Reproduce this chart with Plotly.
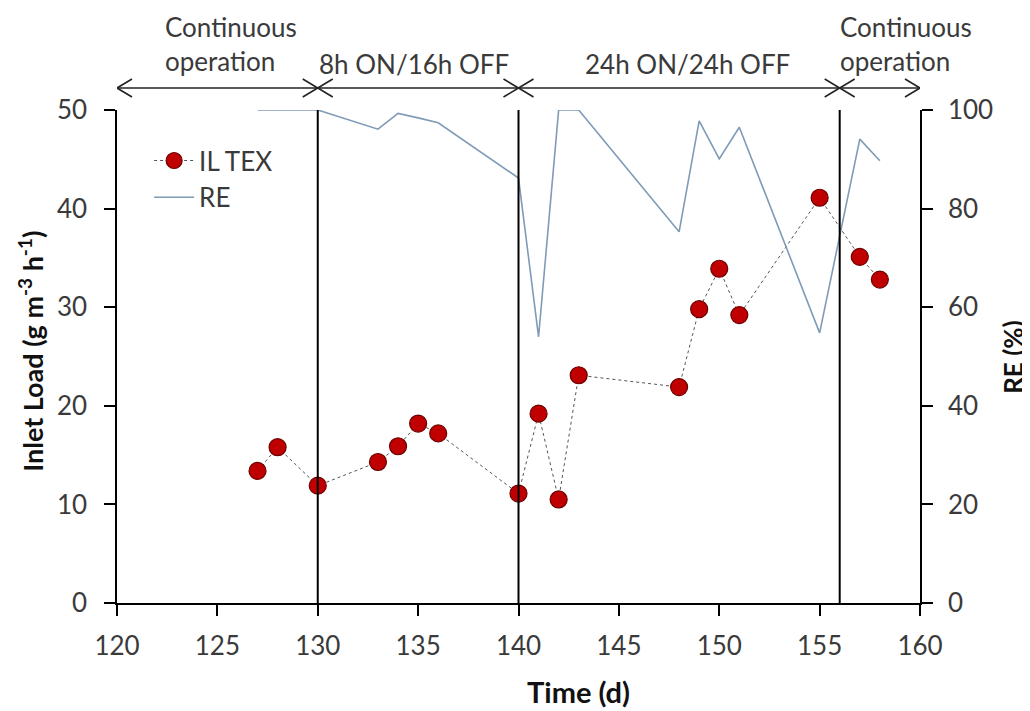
import plotly.graph_objects as go

# ---- data ----
days = [127, 128, 130, 133, 134, 135, 136, 140, 141, 142, 143, 148, 149, 150, 151, 155, 157, 158]
il_tex = [13.4, 15.8, 11.9, 14.3, 15.9, 18.2, 17.2, 11.1, 19.2, 10.5, 23.1, 21.9, 29.8, 33.9, 29.2, 41.1, 35.1, 32.8]
re_pct = [100, 100, 100, 96.1, 99.3, 98.4, 97.4, 86.2, 54.0, 100, 100, 75.3, 97.8, 90.1, 96.5, 54.8, 94.1, 89.7]

phase_bounds = [120, 130, 140, 156, 160]
phase_labels = ["Continuous<br>operation", "8h ON/16h OFF", "24h ON/24h OFF", "Continuous<br>operation"]

x_ticks = [120, 125, 130, 135, 140, 145, 150, 155, 160]
y1_ticks = [0, 10, 20, 30, 40, 50]
y2_ticks = [0, 20, 40, 60, 80, 100]

FONT = "Lato"
TXT = "#3a3a3a"

fig = go.Figure()

fig.add_trace(go.Scatter(
    x=days, y=il_tex, name="IL TEX", mode="lines+markers",
    line=dict(color="#555555", width=1, dash="dot"),
    marker=dict(size=17, color="#C00000", line=dict(color="#6b0000", width=1.2)),
))
fig.add_trace(go.Scatter(
    x=days, y=re_pct, name="RE", mode="lines", yaxis="y2",
    line=dict(color="#7F9BB6", width=1.6),
))

# phase boundary lines
for b in phase_bounds[1:-1]:
    fig.add_shape(type="line", xref="x", yref="paper", x0=b, x1=b, y0=0, y1=1,
                  line=dict(color="black", width=2))

# double-headed phase arrows
arrow_y = 1.0446
arrow_line = dict(color="#222222", width=1.6)
for i in range(len(phase_bounds) - 1):
    a, b = phase_bounds[i], phase_bounds[i + 1]
    fig.add_shape(type="line", xref="x", yref="paper", x0=a, x1=b, y0=arrow_y, y1=arrow_y,
                  line=arrow_line)
    fig.add_shape(type="path", xref="x", yref="paper", xsizemode="pixel", ysizemode="pixel",
                  xanchor=a, yanchor=arrow_y, path="M 15,9 L 0,0 L 15,-9",
                  line=arrow_line, fillcolor="rgba(0,0,0,0)")
    fig.add_shape(type="path", xref="x", yref="paper", xsizemode="pixel", ysizemode="pixel",
                  xanchor=b, yanchor=arrow_y, path="M -15,9 L 0,0 L -15,-9",
                  line=arrow_line, fillcolor="rgba(0,0,0,0)")

annotations = []
lab_font = dict(family=FONT, size=26, color=TXT)
annotations.append(dict(x=122.3, y=1.133, xref="x", yref="paper", text=phase_labels[0],
                        showarrow=False, xanchor="left", yanchor="middle", align="left",
                        font=lab_font))
annotations.append(dict(x=134.8, y=1.093, xref="x", yref="paper", text=phase_labels[1],
                        showarrow=False, xanchor="center", yanchor="middle", font=lab_font))
annotations.append(dict(x=148.4, y=1.093, xref="x", yref="paper", text=phase_labels[2],
                        showarrow=False, xanchor="center", yanchor="middle", font=lab_font))
annotations.append(dict(x=155.9, y=1.133, xref="x", yref="paper", text=phase_labels[3],
                        showarrow=False, xanchor="left", yanchor="middle", align="left",
                        font=lab_font))

# axis titles
annotations.append(dict(x=143.0, y=-0.18, xref="x", yref="paper", text="<b>Time (d)</b>",
                        showarrow=False, xanchor="center", yanchor="middle",
                        font=dict(family=FONT, size=29, color="#111111")))
annotations.append(dict(x=-0.108, y=0.51, xref="paper", yref="paper",
                        text="<b>Inlet Load (g m<sup>-3</sup> h<sup>-1</sup>)</b>",
                        showarrow=False, textangle=-90, xanchor="center", yanchor="middle",
                        font=dict(family=FONT, size=27, color="#111111")))
annotations.append(dict(x=1.115, y=0.5, xref="paper", yref="paper", text="<b>RE (%)</b>",
                        showarrow=False, textangle=-90, xanchor="center", yanchor="middle",
                        font=dict(family=FONT, size=26, color="#111111")))

axis_common = dict(showgrid=False, zeroline=False, showline=True, linecolor="black",
                   linewidth=1.5, ticks="outside", ticklen=11, tickwidth=1.5, tickcolor="black",
                   tickfont=dict(family=FONT, size=26, color=TXT))

# the page body adds an 8px offset, so the figure is sized to fit the 1030x711 window
fig.update_layout(
    width=1022, height=703,
    margin=dict(l=109, r=110, t=102, b=108),
    paper_bgcolor="white", plot_bgcolor="white",
    xaxis=dict(range=[120, 160], tickvals=x_ticks, ticklabelstandoff=8, **axis_common),
    yaxis=dict(range=[0, 50], tickvals=y1_ticks, ticklabelstandoff=12, **axis_common),
    yaxis2=dict(range=[0, 100], tickvals=y2_ticks, overlaying="y", side="right",
                ticklabelstandoff=10, **axis_common),
    legend=dict(x=0.04, y=0.945, xanchor="left", yanchor="top", bgcolor="rgba(0,0,0,0)",
                font=dict(family=FONT, size=26, color=TXT), tracegroupgap=0, itemwidth=40),
    showlegend=True,
    annotations=annotations,
)

fig.write_html("out.html")
